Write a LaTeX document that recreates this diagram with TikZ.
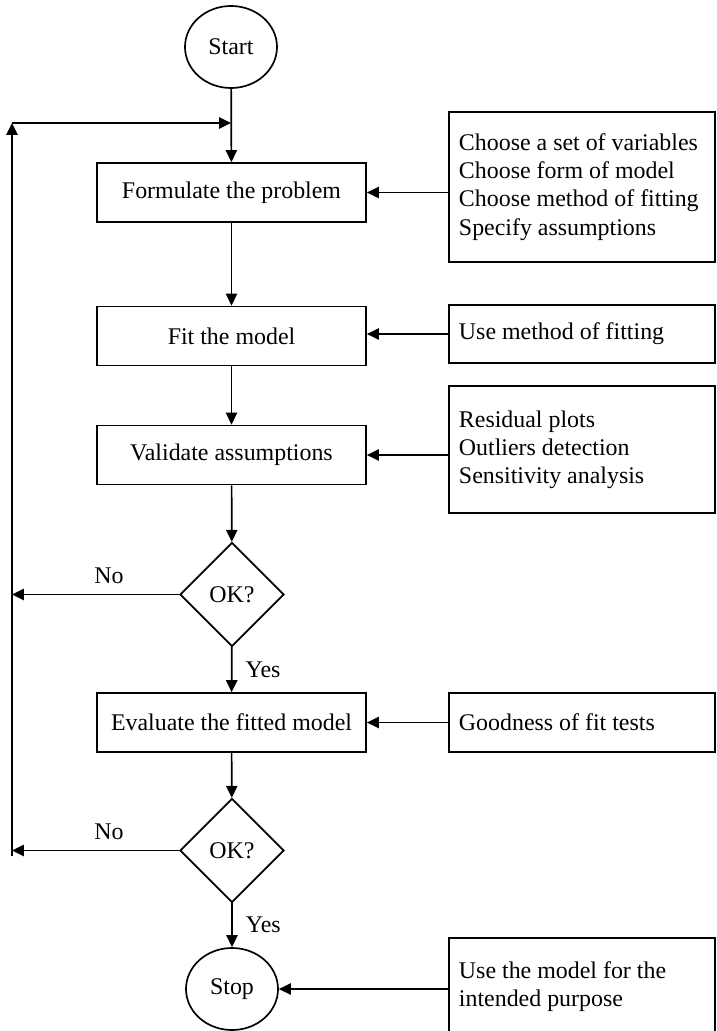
\documentclass[tikz,border=0pt]{standalone}
\usepackage{fontspec}
\setmainfont{Liberation Serif}
\usetikzlibrary{shapes.geometric,arrows.meta}
\begin{document}
\begin{tikzpicture}[x=0.025cm,y=-0.025cm,line width=1.2pt,
  font=\fontsize{17}{20}\selectfont,
  term/.style={draw,ellipse,inner sep=0pt,minimum width=2.3cm,minimum height=2.05cm},
  stepbox/.style={draw,rectangle,minimum width=6.725cm,minimum height=1.475cm},
  test/.style={draw,diamond,inner sep=0pt,minimum width=2.6cm,minimum height=2.6cm},
  note/.style={draw,rectangle,text width=6.15cm,inner xsep=0.25cm,align=flush left},
  arr/.style={-{Triangle[length=8.5pt,width=8pt]}}]
\useasboundingbox(0,0)rectangle(716,1031);
\node[term](start)at(231,47){Start};
\node[stepbox](formulate)at(231.5,192.5){Formulate the problem};
\node[stepbox](fit)at(231.5,336){Fit the model};
\node[stepbox](validate)at(231.5,455){Validate assumptions};
\node[test](ok1)at(232,594.5){OK?};
\node[stepbox](evaluate)at(231.5,722.5){Evaluate the fitted model};
\node[test](ok2)at(232,850.5){OK?};
\node[term](stop)at(232,989){Stop};
\node[note,minimum height=3.75cm](choose)at(582,187){Choose a set of variables\\Choose form of model\\Choose method of fitting\\Specify assumptions};
\node[note,minimum height=1.45cm](method)at(582,334){Use method of fitting};
\node[note,minimum height=3.175cm](checks)at(582,449.5){Residual plots\\Outliers detection\\Sensitivity analysis};
\node[note,minimum height=1.475cm](goodness)at(582,722.5){Goodness of fit tests};
\node[note,minimum height=2.45cm](purpose)at(582,987){Use the model for the\\intended purpose};
\coordinate(lb)at(12,856);
\coordinate(lt)at(12,123);
\coordinate(join)at(start.south|-lt);
\draw[arr](start)--(formulate);
\draw[arr](lb)--(lt);
\draw[arr](lt)--(join);
\draw[arr](formulate)--(fit);
\draw[arr](fit)--(validate);
\draw[arr](validate)--(ok1);
\draw[arr](ok1)--node[right=6pt]{Yes}(evaluate);
\draw[arr](evaluate)--(ok2);
\draw[arr](ok2)--node[right=6pt]{Yes}(stop);
\draw[arr](ok1.west)--node[above=4pt,pos=0.42]{No}(lt|-ok1.west);
\draw[arr](ok2.west)--node[above=4pt,pos=0.42]{No}(lt|-ok2.west);
\draw[arr](choose.west|-formulate)--(formulate.east);
\draw[arr](method.west)--(fit.east|-method.west);
\draw[arr](checks.west|-validate)--(validate.east);
\draw[arr](goodness)--(evaluate);
\draw[arr](purpose.west|-stop)--(stop.east);
\end{tikzpicture}
\end{document}
